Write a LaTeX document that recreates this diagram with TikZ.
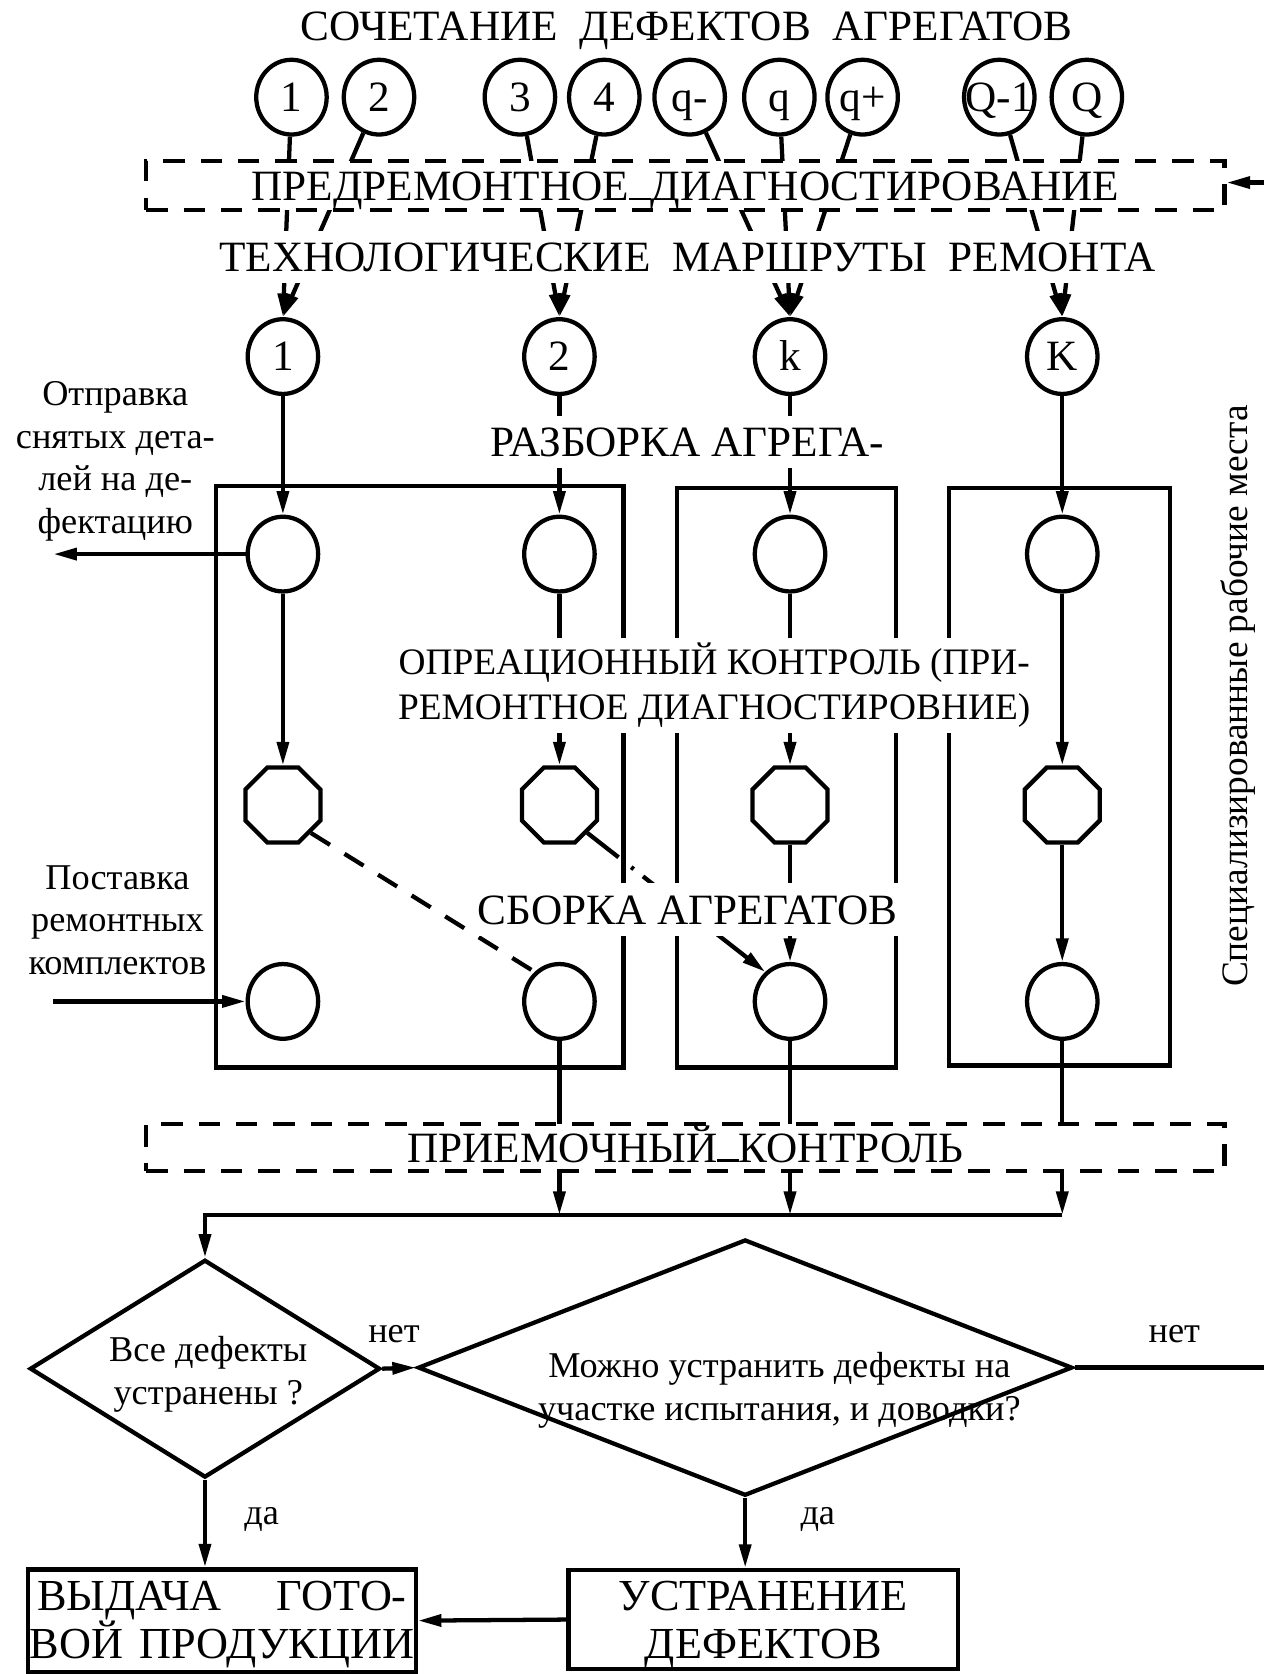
\documentclass[tikz,border=0pt]{standalone}
\usepackage{fontspec}
\setmainfont{Liberation Serif}
\usetikzlibrary{arrows.meta,positioning,shapes.geometric}

\newcommand\capsfont{\fontsize{40.5}{42}\selectfont}
\newcommand\operfont{\fontsize{35}{42}\selectfont}
\newcommand\notefont{\fontsize{34}{40}\selectfont}
\newcommand\boxfont{\fontsize{41.5}{45}\selectfont}
\newcommand\usp{\rule{0.5em}{2.5pt}}

\tikzset{
  unit/.style={ellipse, draw, line width=4pt, fill=white, minimum width=66pt,
    minimum height=70pt, inner sep=0pt, font=\capsfont, text height=27pt, text depth=0pt},
  check/.style={regular polygon, regular polygon sides=8, draw, line width=4pt,
    minimum size=76pt, inner sep=0pt},
  arr/.style={line width=4pt, -{Triangle[length=22pt,width=11pt]}},
  link/.style={line width=4pt},
  frame/.style={draw, line width=4pt},
  head/.style={font=\capsfont, inner sep=0pt, text height=27pt, text depth=0pt},
  lbl/.style={head, fill=white, inner xsep=6pt, inner ysep=11pt},
  dashbox/.style={head, draw, line width=4pt, dash pattern=on 20pt off 15pt,
    fill=white, minimum width=1010pt},
  decide/.style={diamond, draw, line width=4pt, inner sep=0pt},
  outbox/.style={draw, line width=4pt, inner sep=0pt},
  note/.style={font=\notefont, align=center, inner sep=0pt},
}

\begin{document}
\begin{tikzpicture}[x=1pt,y=-1pt]
  \useasboundingbox (0,0) rectangle (1184,1568);
  \node[head] (combo) at (643,24) {СОЧЕТАНИЕ\ \ ДЕФЕКТОВ\ \ АГРЕГАТОВ};
  \foreach \n/\x/\lab in {1/273/1, 2/355/2, 3/487/3, 4/566/4, 5/646/q-,
                          6/730/q, 7/808/q+, 8/936/Q-1, 9/1018/Q}
    \node[unit] (t\n) at (\x,91) {\makebox[0pt]{\lab}};
  \foreach \n/\x/\lab in {1/265/1, 2/524/2, 3/740/k, 4/995/K}
    \node[unit] (r\n) at (\x,334) {\makebox[0pt]{\lab}};
  \foreach \i/\j in {1/1,2/1,3/2,4/2,5/3,6/3,7/3,8/4,9/4}
    \draw[arr] (t\i) -- (r\j.north);

  \node[dashbox, minimum height=46pt] (prediag) at (642,174)
       {ПРЕДРЕМОНТНОЕ\usp ДИАГНОСТИРОВАНИЕ};
  \node[lbl] (routes) at (644,241) {ТЕХНОЛОГИЧЕСКИЕ\ \ МАРШРУТЫ\ \ РЕМОНТА};
  \coordinate (fbin) at (1184,171);
  \draw[arr] (fbin) -- (prediag.east |- fbin);

  % workplaces
  \foreach \n/\x in {1/265,2/524,3/740,4/995} {
    \node[unit] (a\n) at (\x,519) {};
    \node[check] (o\n) at (\x,754) {};
    \node[unit] (c\n) at (\x,938) {};
    \draw[arr] (r\n) -- (a\n);
    \draw[arr] (a\n) -- (o\n);
  }
  \draw[arr] (o3) -- (c3);
  \draw[arr] (o4) -- (c4);
  \draw[link, dash pattern=on 21pt off 16pt] (o1.-45) -- (c2.130);
  \draw[arr, dash pattern=on 37pt off 15pt on 3pt off 11pt on 400pt off 1pt]
    (o2.-45) -- (c3.130);

  \draw[frame] (202,455) rectangle (584,1000);
  \draw[frame] (634,457) rectangle (839,1000);
  \draw[frame] (889,457) rectangle (1096,998);

  \node[lbl] (razb) at (644,414) {РАЗБОРКА АГРЕГА-};
  \node[font=\operfont, fill=white, align=center, inner xsep=6pt, inner ysep=5pt]
       (oper) at (669,642) {ОПРЕАЦИОННЫЙ КОНТРОЛЬ (ПРИ-\\РЕМОНТНОЕ ДИАГНОСТИРОВНИЕ)};
  \node[lbl] (sborka) at (644,852) {СБОРКА АГРЕГАТОВ};

  \node[note] (sendoff) at (108,432) {Отправка\\снятых дета-\\лей на де-\\фектацию};
  \coordinate (sendto) at (50,519);
  \draw[arr] (a1.west) -- (sendto);
  \node[note] (supply) at (110,862) {Поставка\\ремонтных\\комплектов};
  \coordinate (supfrom) at (50,938);
  \draw[arr] (supfrom) -- (c1.west);

  \node[font=\fontsize{35}{40}\selectfont, rotate=90] (places) at (1160,652)
       {Специализированные рабочие места};

  % acceptance and decisions
  \coordinate (bus) at (0,1138);
  \foreach \n in {2,3,4}
    \draw[arr] (c\n) -- (c\n |- bus);
  \node[decide, minimum width=328pt, minimum height=204pt] (d1) at (192,1282) {};
  \draw[arr] (c4 |- bus) -| (d1.north);
  \node[dashbox, minimum height=44pt] (accept) at (642,1075) {ПРИЕМОЧНЫЙ\usp КОНТРОЛЬ};

  \node[note] (d1txt) at (195,1287) {Все дефекты\\устранены ?};
  \node[decide, minimum width=613pt, minimum height=240pt] (d2) at (698,1281) {};
  \node[note] (d2txt) at (730,1302) {Можно устранить дефекты на\\участке испытания, и доводки?};
  \draw[arr] (d1.east) -- (d2.west);
  \node[note] (no1) at (369,1250) {нет};
  \coordinate (fbout) at (1184,1281);
  \draw[link] (d2.east) -- (fbout);
  \node[note] (no2) at (1100,1250) {нет};

  \node[outbox, minimum width=363pt, minimum height=96pt] (issue) at (208,1518) {};
  \node[font=\boxfont, align=center, inner sep=0pt] (issuetxt) at (208,1522)
       {\makebox[346pt][s]{ВЫДАЧА\hfill ГОТО-}\\\makebox[360pt][s]{ВОЙ\hfill ПРОДУКЦИИ}};
  \node[outbox, minimum width=365pt, minimum height=93pt] (fix) at (715,1517) {};
  \node[font=\boxfont, align=center, inner sep=0pt] (fixtxt) at (715,1522)
       {УСТРАНЕНИЕ\\ДЕФЕКТОВ};
  \draw[arr] (d1.south) -- (d1.south |- issue.north);
  \draw[arr] (d2.south) -- (d2.south |- fix.north);
  \draw[arr] (fix.west) -- (issue.east);
  \node[note] (yes1) at (245,1423) {да};
  \node[note] (yes2) at (766,1423) {да};
\end{tikzpicture}
\end{document}
